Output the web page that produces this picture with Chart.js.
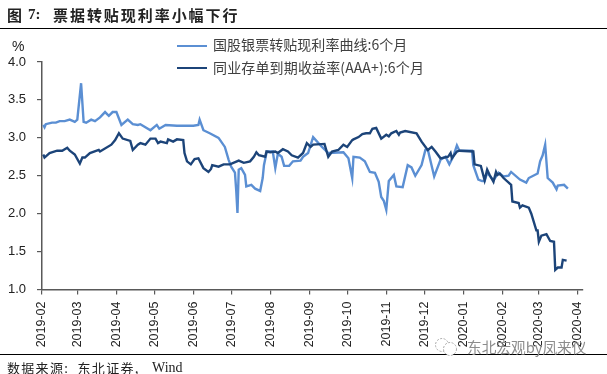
<!DOCTYPE html>
<html>
<head>
<meta charset="utf-8">
<script src="https://cdn.jsdelivr.net/npm/chart.js@4"></script>
<style>
html,body{margin:0;padding:0;background:#fff;}
#wrap{position:relative;width:607px;height:374px;overflow:hidden;font-family:"Liberation Sans",sans-serif;}
#wrap canvas{position:absolute;left:0;top:0;}
.t{position:absolute;white-space:pre;line-height:1;}
.rule{position:absolute;left:0;width:607px;height:1px;background:#000;}
.cjk{font-family:"Noto Sans CJK SC",sans-serif;}
.key{position:absolute;left:177px;width:30px;height:2.5px;}
</style>
</head>
<body>
<div id="wrap">
  <canvas id="myChart" width="607" height="374"></canvas>
  <div class="t cjk" style="left:7px;top:7px;font-size:15px;font-weight:700;color:#222">图</div>
  <div class="t" style="left:28px;top:7px;font-size:15px;font-weight:700;color:#222;font-family:'Liberation Serif',serif">7:</div>
  <div class="t cjk" id="title" style="left:53px;top:7px;font-size:15px;font-weight:700;letter-spacing:1.95px;color:#222"></div>
  <div class="rule" style="top:28px"></div>
  <div class="rule" style="top:354px"></div>
  <div class="t" style="left:12px;top:39px;font-size:14px;color:#222">%</div>
  <div class="key" id="key1" style="top:44.5px"></div>
  <div class="key" id="key2" style="top:66.5px"></div>
  <div class="t cjk" id="leg1" style="left:213px;top:37px;font-size:14px;letter-spacing:0.05px;color:#404040"></div>
  <div class="t cjk" id="leg2" style="left:213px;top:59.5px;font-size:14px;letter-spacing:0.15px;color:#404040"></div>
  <div class="t cjk" style="left:7px;top:361px;font-size:13px;letter-spacing:1.3px;color:#222">数据来源:  东北证券,</div>
  <div class="t" style="left:152px;top:361px;font-size:14px;color:#222;font-family:'Liberation Serif',serif">Wind</div>
  <svg style="position:absolute;left:432px;top:337px" width="28" height="20">
    <circle cx="10" cy="8" r="6.5" fill="#fff" stroke="#aaa" stroke-dasharray="2 1.5"/>
    <circle cx="18" cy="12" r="6.5" fill="#fff" stroke="#aaa" stroke-dasharray="2 1.5"/>
  </svg>
  <div class="t cjk" style="left:467px;top:339.5px;font-size:14.7px;color:#8c8c8c">东北宏观by凤来仪</div>
</div>
<script>
const titleText = "票据转贴现利率小幅下行"
const name_light = "国股银票转贴现利率曲线:6个月"
const name_dark = "同业存单到期收益率(AAA+):6个月"
const color_light = "#5b8fd3"
const color_dark = "#1c4479"

// x is days since 2019-02-01
const month_days = [0,28,59,89,120,150,181,212,242,273,303,334,365,394,425]
const month_labels = ["2019-02","2019-03","2019-04","2019-05","2019-06","2019-07","2019-08","2019-09","2019-10","2019-11","2019-12","2020-01","2020-02","2020-03","2020-04"]
const y_ticks = [1.0,1.5,2.0,2.5,3.0,3.5,4.0]

const light_days = [1,2,3,8,11,14,18,22,26,28,31,33,35,39,42,46,50,53,56,59,63,68,72,76,78,86,91,93,98,107,120,124,125,128,133,140,145,148,150,153,154,155,156,158,161,162,166,169,173,175,176,178,179,183,185,187,190,192,196,199,205,207,211,215,222,227,239,243,246,247,252,256,260,264,267,269,271,273,275,279,281,286,290,293,296,301,304,306,311,316,320,323,326,329,331,341,342,346,349,351,353,358,362,366,370,372,379,384,386,393,395,397,399,401,405,408,409,414,417]
const light_vals = [3.17,3.14,3.18,3.20,3.20,3.22,3.22,3.24,3.21,3.24,3.72,3.21,3.20,3.24,3.22,3.27,3.34,3.29,3.34,3.34,3.17,3.24,3.18,3.17,3.18,3.10,3.17,3.12,3.17,3.16,3.16,3.17,3.24,3.10,3.06,3.00,2.88,2.71,2.62,2.54,2.31,2.01,2.58,2.60,2.51,2.36,2.38,2.33,2.30,2.47,2.64,2.80,2.82,2.82,2.60,2.79,2.75,2.63,2.63,2.69,2.70,2.75,2.80,3.01,2.88,2.80,2.81,2.73,2.47,2.75,2.74,2.69,2.55,2.54,2.42,2.22,2.17,2.05,2.43,2.51,2.36,2.35,2.64,2.61,2.50,2.64,2.84,2.84,2.49,2.71,2.75,2.65,2.75,2.90,2.83,2.83,2.64,2.45,2.43,2.43,2.54,2.44,2.54,2.49,2.50,2.55,2.45,2.41,2.47,2.53,2.69,2.77,2.91,2.47,2.41,2.32,2.37,2.38,2.33]

const dark_days = [1,2,6,12,16,20,22,26,30,32,34,38,45,46,55,58,61,64,70,72,76,78,82,86,90,92,94,99,100,104,107,112,113,115,118,121,124,128,132,134,135,140,144,149,156,160,165,168,170,172,177,178,181,185,187,191,195,198,203,207,210,213,215,224,227,230,235,239,242,246,247,251,254,257,260,262,265,269,273,275,277,281,283,284,288,297,301,305,306,309,312,316,322,324,325,329,331,342,343,348,351,353,355,358,360,361,363,366,372,373,378,379,381,386,388,392,393,394,396,400,403,406,407,409,412,413,416]
const dark_vals = [2.78,2.74,2.80,2.83,2.83,2.87,2.83,2.78,2.66,2.74,2.74,2.80,2.84,2.82,2.91,2.97,3.06,2.99,2.96,2.84,2.91,2.93,2.91,2.99,2.99,2.93,2.95,2.93,2.98,2.95,2.98,2.97,2.80,2.69,2.65,2.72,2.73,2.60,2.55,2.59,2.64,2.62,2.65,2.65,2.70,2.67,2.69,2.75,2.81,2.77,2.75,2.82,2.81,2.82,2.80,2.85,2.82,2.77,2.74,2.80,2.93,2.88,2.91,2.92,2.75,2.82,2.84,2.91,2.88,2.97,2.98,3.01,3.05,3.06,3.06,3.12,3.13,2.99,3.04,3.02,3.06,3.09,3.04,3.07,3.09,3.06,2.95,2.86,2.84,2.88,2.82,2.73,2.75,2.80,2.73,2.82,2.83,2.82,2.65,2.63,2.44,2.58,2.51,2.42,2.55,2.51,2.53,2.47,2.38,2.16,2.14,2.08,2.11,2.08,2.00,1.78,1.78,1.63,1.71,1.73,1.64,1.63,1.26,1.29,1.29,1.39,1.38]

document.getElementById("title").textContent = titleText
document.getElementById("leg1").textContent = name_light
document.getElementById("leg2").textContent = name_dark
document.getElementById("key1").style.background = color_light
document.getElementById("key2").style.background = color_dark

function toPoints(days,vals){
    return days.map((d,i) => ({x:d,y:vals[i]}))
}

const axis_color = "#595959"
const ctx = document.getElementById("myChart")

new Chart(ctx, {
    type: 'line',
    data: {
        datasets: [{
            label: name_light,
            data: toPoints(light_days,light_vals),
            borderColor: color_light,
            borderWidth: 2.4,
            pointRadius: 0,
            tension: 0,
            order: 2
        }, {
            label: name_dark,
            data: toPoints(dark_days,dark_vals),
            borderColor: color_dark,
            borderWidth: 2.4,
            pointRadius: 0,
            tension: 0,
            order: 1
        }]
    },
    options: {
        responsive: false,
        animation: false,
        layout: { padding: { top: 62, right: 24, left: 0, bottom: 0 } },
        plugins: { legend: { display: false }, tooltip: { enabled: false } },
        scales: {
            x: {
                type: 'linear',
                min: 0,
                max: 429,
                afterBuildTicks: axis => { axis.ticks = month_days.map(d => ({value:d})) },
                afterFit: axis => { axis.height = 84.5 },
                border: { color: axis_color, width: 1.5 },
                grid: { drawOnChartArea: false, color: axis_color, tickLength: 5, lineWidth: 1.2 },
                ticks: {
                    autoSkip: false,
                    minRotation: 90,
                    maxRotation: 90,
                    padding: 7,
                    color: "#222",
                    font: { family: "Liberation Sans", size: 12.5 },
                    callback: v => month_labels[month_days.indexOf(v)]
                }
            },
            y: {
                min: 1,
                max: 4,
                afterBuildTicks: axis => { axis.ticks = y_ticks.map(v => ({value:v})) },
                afterFit: axis => { axis.width = 42 },
                border: { color: axis_color, width: 1.5 },
                grid: { drawOnChartArea: false, color: axis_color, tickLength: 5, lineWidth: 1.2 },
                ticks: {
                    padding: 11,
                    color: "#222",
                    font: { family: "Liberation Sans", size: 13 },
                    callback: v => v.toFixed(1)
                }
            }
        }
    }
});
</script>
</body>
</html>
